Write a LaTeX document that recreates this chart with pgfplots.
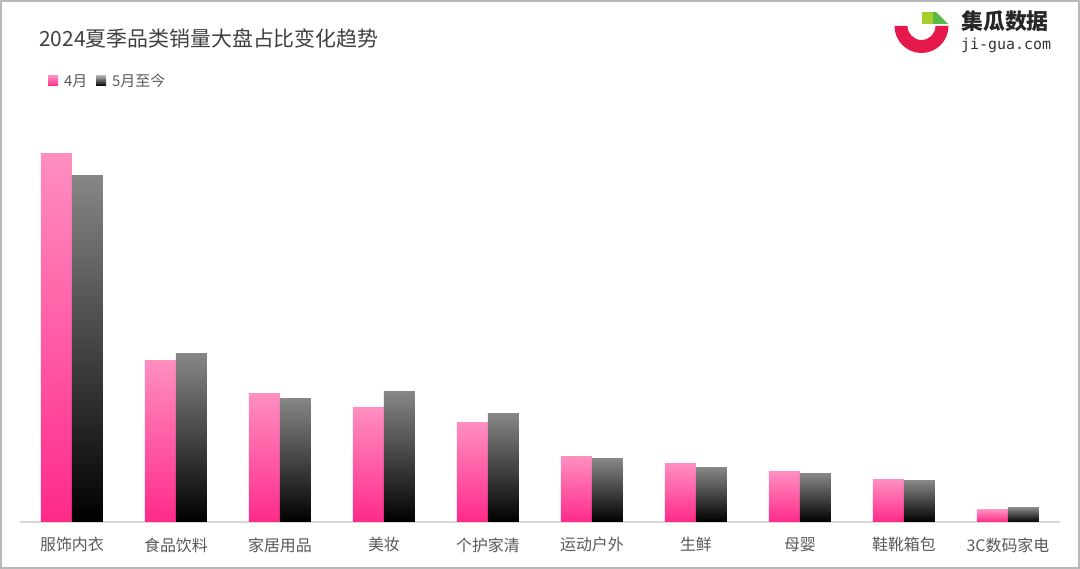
\documentclass[border=0pt]{standalone}
\usepackage{fontspec}
\setmainfont{Noto Sans CJK SC}
\newfontfamily\monofont{DejaVu Sans Mono}
\usepackage{pgfplots}
\pgfplotsset{compat=1.18}
\definecolor{pinkTop}{HTML}{FF8EC0}
\definecolor{pinkBot}{HTML}{FF2A8A}
\definecolor{blackTop}{HTML}{868686}
\definecolor{blackBot}{HTML}{000000}
\definecolor{logoRed}{HTML}{E5194B}
\definecolor{logoLime}{HTML}{A5CF2B}
\definecolor{logoGreen}{HTML}{5BB848}
\definecolor{titleGray}{HTML}{404040}
\definecolor{labelGray}{HTML}{595959}
\pgfplotsset{
  pinkbar/.style={ybar, bar width=31bp, bar shift=-15.5bp, draw=none, top color=pinkTop, bottom color=pinkBot},
  blackbar/.style={ybar, bar width=31bp, bar shift=15.5bp, draw=none, top color=blackTop, bottom color=blackBot},
}
\begin{document}
\begin{tikzpicture}[x=1bp,y=1bp]
\path[use as bounding box] (0,0) rectangle (1080,569);
\draw[line width=2bp, color=black!28] (1,1) rectangle (1079,568);
\begin{axis}[
  at={(20bp,47bp)}, anchor=south west,
  width=1040bp, height=380bp, scale only axis,
  xmin=-0.5, xmax=9.5, ymin=0, ymax=380,
  axis y line=none, axis x line*=bottom,
  x axis line style={draw=black!15, line width=2bp, -},
  xtick={0,...,9},
  xticklabels={服饰内衣,食品饮料,家居用品,美妆,个护家清,运动户外,生鲜,母婴,鞋靴箱包,3C数码家电},
  major tick length=0pt,
  xticklabel style={font=\fontsize{16}{16}\selectfont, text=labelGray, yshift=-12bp},
  clip=false,
]
% 4月 (one plot per bar so each bar gets its own gradient)
\addplot[pinkbar] coordinates {(0,368)};
\addplot[pinkbar] coordinates {(1,161)};
\addplot[pinkbar] coordinates {(2,128)};
\addplot[pinkbar] coordinates {(3,114)};
\addplot[pinkbar] coordinates {(4,99)};
\addplot[pinkbar] coordinates {(5,65)};
\addplot[pinkbar] coordinates {(6,58)};
\addplot[pinkbar] coordinates {(7,50)};
\addplot[pinkbar] coordinates {(8,42)};
\addplot[pinkbar] coordinates {(9,12)};
% 5月至今
\addplot[blackbar] coordinates {(0,346)};
\addplot[blackbar] coordinates {(1,168)};
\addplot[blackbar] coordinates {(2,123)};
\addplot[blackbar] coordinates {(3,130)};
\addplot[blackbar] coordinates {(4,108)};
\addplot[blackbar] coordinates {(5,63)};
\addplot[blackbar] coordinates {(6,54)};
\addplot[blackbar] coordinates {(7,48)};
\addplot[blackbar] coordinates {(8,41)};
\addplot[blackbar] coordinates {(9,14)};
\end{axis}
% title
\node[anchor=west, text=titleGray, font=\fontsize{21}{21}\selectfont, inner sep=0] at (39,531) {2024夏季品类销量大盘占比变化趋势};
% legend
\shade[top color=pinkTop, bottom color=pinkBot] (48,483) rectangle (58,493);
\node[anchor=west, text=labelGray, font=\fontsize{15}{15}\selectfont, inner sep=0] at (64,488) {4月};
\shade[top color=blackTop!70, bottom color=blackBot] (96,483) rectangle (106,493);
\node[anchor=west, text=labelGray, font=\fontsize{15}{15}\selectfont, inner sep=0] at (112,488) {5月至今};
% logo
\fill[logoRed] (894.5,543) arc[start angle=180,end angle=360,radius=27] -- (935.5,543) arc[start angle=0,end angle=-180,radius=14] -- cycle;
\fill[logoLime] (922,545) rectangle (933,557);
\fill[logoGreen] (933,545) -- (933,557) -- (936,557) -- (948,545) -- cycle;
\node[anchor=west, text=black!85, font=\fontsize{22}{22}\selectfont\bfseries, inner sep=0] at (961,548) {集瓜数据};
\node[anchor=west, text=black!80, font=\monofont\fontsize{15}{15}\selectfont, inner sep=0] at (961,524) {ji-gua.com};
\end{tikzpicture}
\end{document}
